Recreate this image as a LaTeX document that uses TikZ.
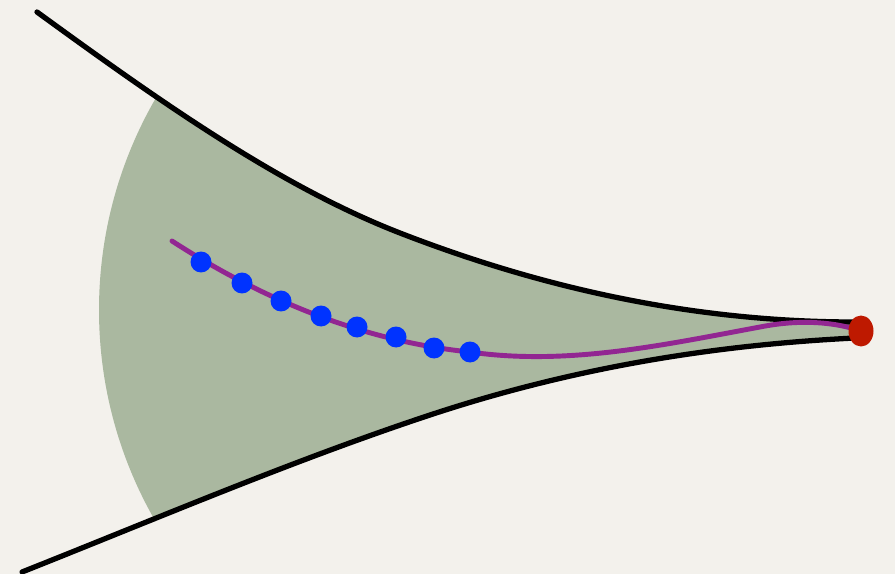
\documentclass[tikz,border=0pt]{standalone}
\usepackage{tikz}
\usetikzlibrary{shapes,positioning}
\definecolor{paper}{RGB}{243,241,236}
\definecolor{sagegreen}{RGB}{170,184,160}
\definecolor{pathpurple}{RGB}{146,38,146}
\definecolor{dotblue}{RGB}{0,51,255}
\definecolor{dotred}{RGB}{190,25,0}

\begin{document}
\begin{tikzpicture}[x=0.02cm, y=-0.02cm,
    bound/.style={black, line width=3pt, line cap=round},
    traj/.style={pathpurple, line width=2.8pt, line cap=round},
    sample/.style={circle, fill=dotblue, inner sep=0pt, minimum width=0.4cm, minimum height=0.42cm},
    target/.style={ellipse, fill=dotred, inner sep=0pt, minimum width=0.5cm, minimum height=0.62cm}]
    \fill[paper] (0,0) rectangle (895,574);
    \useasboundingbox (0,0) rectangle (895,574);

    \coordinate (upA) at (37,12);
    \coordinate (upB) at (400,233);
    \coordinate (upC) at (855,322);
    \coordinate (loA) at (22,572);
    \coordinate (loB) at (430,415);
    \coordinate (loC) at (855,338);

    % cone between the two bounds
    \begin{scope}
        \clip (upA) .. controls (158,100) and (279,186) .. (upB)
            .. controls (552,292) and (703,322) .. (upC) -- (loC)
            .. controls (713,345) and (572,368) .. (loB)
            .. controls (294,460) and (158,518) .. (loA) -- cycle;
        \fill[sagegreen] (522,310) circle[radius=423];
    \end{scope}

    \draw[bound] (upA) .. controls (158,100) and (279,186) .. (upB)
        .. controls (552,292) and (703,322) .. (upC);
    \draw[bound] (loA) .. controls (158,518) and (294,460) .. (loB)
        .. controls (572,368) and (713,345) .. (loC);

    \coordinate (start) at (172,241);
    \coordinate (last) at (470,352);
    \coordinate (bend) at (760,327);
    \coordinate (goal) at (861,331);
    \draw[traj] (start) .. controls (271,305) and (371,342) .. (last)
        .. controls (567,366) and (663,345) .. (bend)
        .. controls (800,319) and (835,322) .. (goal);
    \node[target] (goalmark) at (goal) {};

    \foreach \x/\y [count=\k] in {201/262, 242/283, 281/301, 321/316, 357/327, 396/337, 434/348, 470/352} {
        \node[sample] (s\k) at (\x,\y) {};
    }
\end{tikzpicture}
\end{document}
